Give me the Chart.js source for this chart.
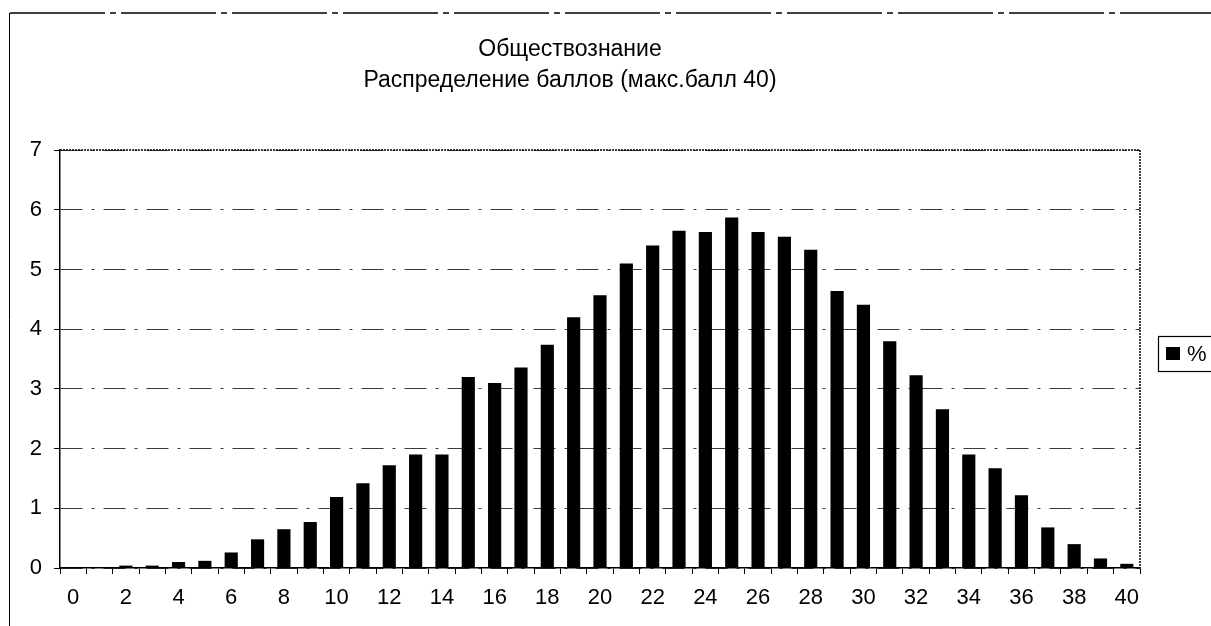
<!DOCTYPE html>
<html>
<head>
<meta charset="utf-8">
<script src="https://cdn.jsdelivr.net/npm/chart.js@4/dist/chart.umd.min.js"></script>
<style>
	html, body { margin: 0; padding: 0; background: #fff; }
	#wrap { width: 1211px; height: 626px; position: relative; }
</style>
</head>
<body>
<div id="wrap"><canvas id="myChart"></canvas></div>
<script>
var titleLines = ["Обществознание", "Распределение баллов (макс.балл 40)"];
var seriesName = "%";
var scores = [];
for (var s = 0; s <= 40; s++)
	scores.push(String(s));
var percents = [0, 0, 0.04, 0.04, 0.1, 0.12, 0.26, 0.48, 0.65, 0.77,
	1.19, 1.42, 1.72, 1.9, 1.9, 3.2, 3.1, 3.36, 3.74, 4.2,
	4.57, 5.1, 5.4, 5.65, 5.63, 5.87, 5.63, 5.55, 5.33, 4.64,
	4.41, 3.8, 3.23, 2.66, 1.9, 1.67, 1.22, 0.68, 0.4, 0.16,
	0.07];
var yTicks = [0, 1, 2, 3, 4, 5, 6, 7];

var fontName = "'Liberation Sans', Arial, sans-serif";

// frame, plot border and the little legend box
var decor = {
	id: "decor",
	afterDraw: function(chart){
		var ctx = chart.ctx;
		var a = chart.chartArea;
		ctx.save();
		ctx.strokeStyle = "#000";
		ctx.lineWidth = 1.5;
		ctx.setLineDash([95, 5, 6, 5]);
		ctx.beginPath();
		ctx.moveTo(10, 13);
		ctx.lineTo(1211, 13);
		ctx.stroke();
		ctx.setLineDash([]);
		ctx.lineWidth = 1;
		ctx.beginPath();
		ctx.moveTo(9.5, 13);
		ctx.lineTo(9.5, 626);
		ctx.stroke();

		ctx.lineWidth = 1.5;
		ctx.setLineDash([2, 1]);
		ctx.beginPath();
		ctx.moveTo(a.left, a.top);
		ctx.lineTo(a.right, a.top);
		ctx.lineTo(a.right, a.bottom);
		ctx.stroke();
		ctx.setLineDash([]);

		// legend
		ctx.lineWidth = 1.2;
		ctx.strokeRect(1158.5, 336.5, 60, 35);
		ctx.fillStyle = "#000";
		ctx.fillRect(1166, 347, 14, 13);
		ctx.font = "22px " + fontName;
		ctx.textBaseline = "middle";
		ctx.fillText(chart.data.datasets[0].label, 1187, 355);
		ctx.restore();
	}
};

function makeChart()
{
	var ctx = document.getElementById("myChart");
	new Chart(ctx, {
		type: "bar",
		data: {
			labels: scores,
			datasets: [{
				label: seriesName,
				data: percents,
				backgroundColor: "#000",
				borderWidth: 0,
				categoryPercentage: 1,
				barPercentage: 0.5
			}]
		},
		options: {
			responsive: false,
			animation: false,
			layout: { padding: { top: 0, right: 71, bottom: 0, left: 0 } },
			plugins: {
				legend: { display: false },
				tooltip: { enabled: false },
				title: {
					display: true,
					text: titleLines,
					color: "#000",
					font: { family: fontName, size: 23, weight: "normal", lineHeight: 1.35 },
					padding: { top: 34, bottom: 54 }
				}
			},
			scales: {
				x: {
					afterFit: function(sc){ sc.height = 58; },
					grid: {
						drawOnChartArea: false,
						drawTicks: true,
						tickLength: 6,
						tickColor: "#000",
						offset: true
					},
					border: { display: true, color: "#000", width: 1.5 },
					ticks: {
						autoSkip: false,
						maxRotation: 0,
						color: "#000",
						padding: 11,
						font: { family: fontName, size: 22 },
						callback: function(v, i){ return i % 2 == 0 ? scores[i] : ""; }
					}
				},
				y: {
					min: yTicks[0],
					max: yTicks[yTicks.length - 1],
					afterFit: function(sc){ sc.width = 60; },
					afterBuildTicks: function(sc){
						sc.ticks = yTicks.map(function(v){ return { value: v }; });
					},
					grid: {
						color: "#3a3a3a",
						lineWidth: 1,
						tickLength: 6,
						tickColor: "#000",
						tickBorderDash: []
					},
					border: { display: true, color: "#000", width: 1.5, dash: [22, 9, 3, 9] },
					ticks: {
						color: "#000",
						padding: 12,
						font: { family: fontName, size: 22 }
					}
				}
			}
		},
		plugins: [decor]
	});
}

var cv = document.getElementById("myChart");
cv.width = 1211;
cv.height = 626;
makeChart();
</script>
</body>
</html>
